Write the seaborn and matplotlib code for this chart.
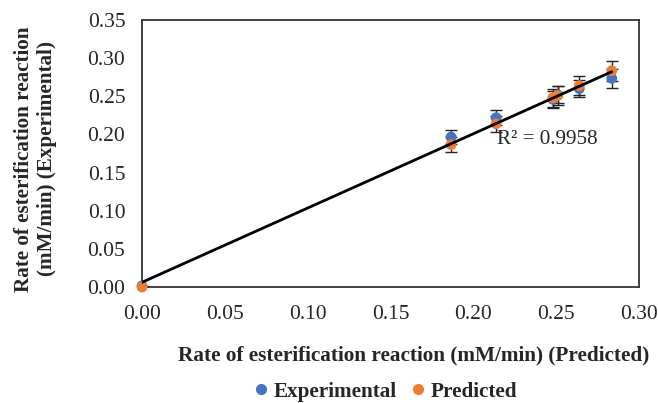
import numpy as np
import pandas as pd
import matplotlib
matplotlib.use("Agg")
import matplotlib.pyplot as plt
import seaborn as sns

# values (mM/min)
predicted = [0.0, 0.1866, 0.2138, 0.2480, 0.2510, 0.2640, 0.2836]
experimental = [0.0015, 0.1966, 0.2220, 0.2460, 0.2520, 0.2600, 0.2735]
exp_err = [0.0, 0.009, 0.010, 0.011, 0.011, 0.011, 0.012]
pred_err = [0.0, 0.010, 0.010, 0.012, 0.012, 0.012, 0.013]
r2_label = "R² = 0.9958"

sns.set_style("white")
plt.rcParams['font.family'] = ['Liberation Serif', 'DejaVu Serif']

df = pd.DataFrame({
    'x': predicted * 2,
    'y': experimental + predicted,
    'series': ['Experimental'] * len(predicted) + ['Predicted'] * len(predicted),
})

fig = plt.figure(figsize=(6.59, 4.03), dpi=100)
ax = fig.add_axes([0.2155, 0.2878, 0.754, 0.6626])

# error bars first so markers sit on top
ax.errorbar(predicted, experimental, yerr=exp_err, fmt='none', ecolor='#222222',
            elinewidth=1, capsize=4, capthick=1, zorder=2)
ax.errorbar(predicted, predicted, yerr=pred_err, fmt='none', ecolor='#222222',
            elinewidth=1, capsize=4, capthick=1, zorder=2)

sns.scatterplot(data=df, x='x', y='y', hue='series',
                palette={'Experimental': '#4472C4', 'Predicted': '#ED7D31'},
                s=60, edgecolor='none', ax=ax, zorder=3, legend=False, clip_on=False)

# linear trendline of experimental against predicted
slope, intercept = np.polyfit(predicted, experimental, 1)
xs = np.array([0.0, max(predicted)])
ax.plot(xs, slope * xs + intercept, color='black', lw=2, zorder=4)
ax.text(0.2145, 0.194, r2_label, fontsize=15.2, va='center', ha='left', zorder=5)

ax.set_xlim(0, 0.30)
ax.set_ylim(0, 0.35)
ax.set_xticks(np.arange(0, 0.301, 0.05))
ax.set_yticks(np.arange(0, 0.351, 0.05))
ax.xaxis.set_major_formatter(matplotlib.ticker.FormatStrFormatter('%.2f'))
ax.yaxis.set_major_formatter(matplotlib.ticker.FormatStrFormatter('%.2f'))
ax.tick_params(axis='both', length=0, labelsize=15.5)
ax.tick_params(axis='y', pad=12)
ax.tick_params(axis='x', pad=13)
for sp in ax.spines.values():
    sp.set_color('#333333')
    sp.set_linewidth(1.3)

ax.set_xlabel('')
ax.set_ylabel('')
fig.text(414 / 659, 1 - 355 / 403, 'Rate of esterification reaction (mM/min) (Predicted)',
         ha='center', va='center', fontsize=15.3, fontweight='bold')
fig.text(36 / 659, 1 - 159 / 403, 'Rate of esterification reaction\n(mM/min) (Experimental)',
         rotation=90, ha='center', va='center', fontsize=15.2, fontweight='bold',
         linespacing=1.2, multialignment='center')

handles = [
    plt.Line2D([], [], marker='o', ls='none', color='#4472C4', markersize=7, label='Experimental'),
    plt.Line2D([], [], marker='o', ls='none', color='#ED7D31', markersize=7, label='Predicted'),
]
fig.legend(handles=handles, loc='center', bbox_to_anchor=(0.583, 0.028), ncol=2,
           frameon=False, handlelength=1.0, handletextpad=0.1, columnspacing=0.5,
           prop={'family': 'Liberation Serif', 'weight': 'bold', 'size': 15.2})

fig.savefig('out.png', dpi=100)
